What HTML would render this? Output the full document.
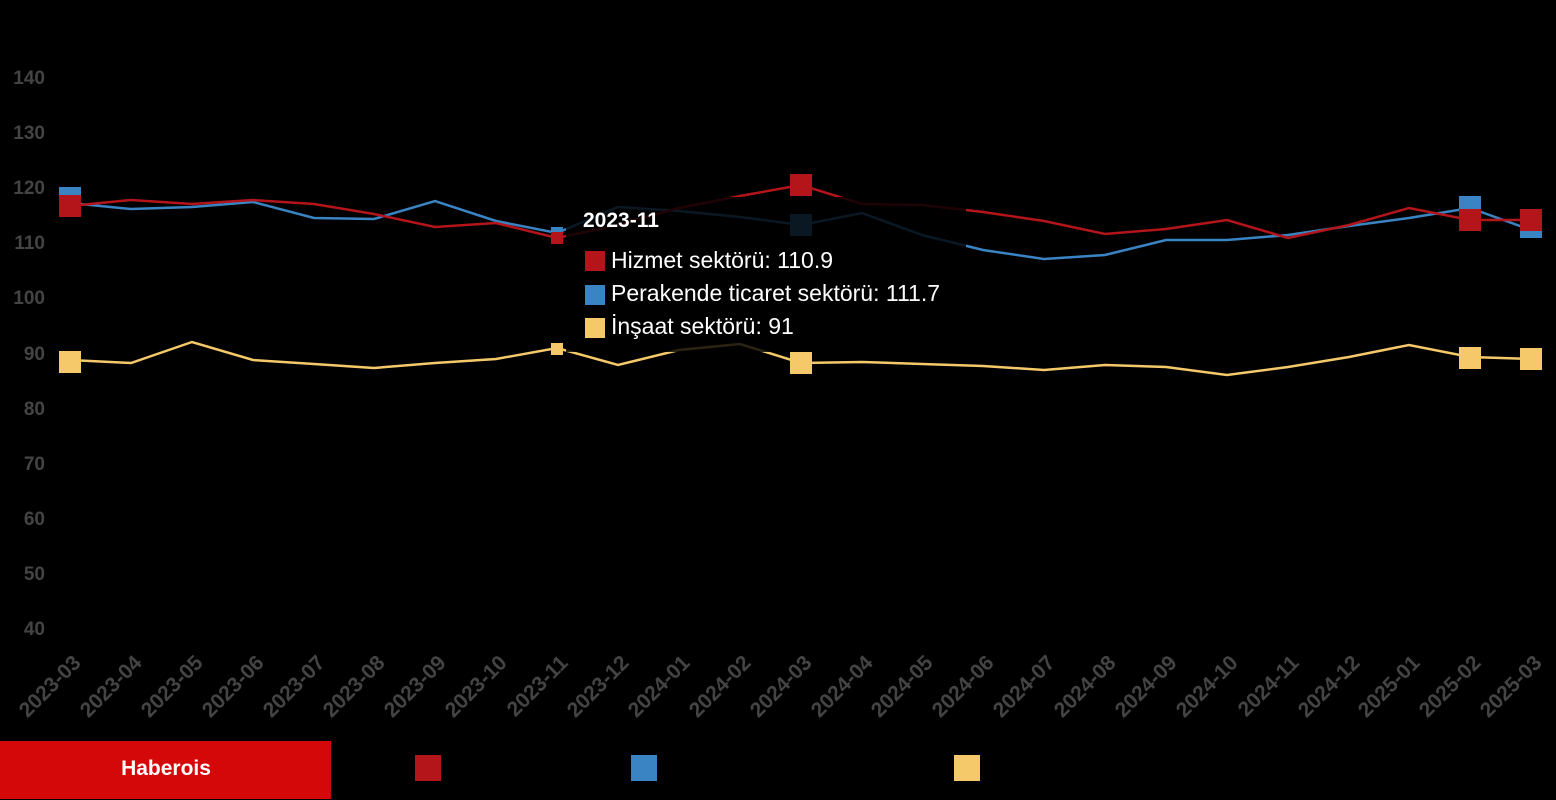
<!DOCTYPE html>
<html><head><meta charset="utf-8"><style>
body{margin:0;background:#000;width:1556px;height:800px;overflow:hidden;font-family:"Liberation Sans",sans-serif}
</style></head><body>
<svg width="1556" height="800" xmlns="http://www.w3.org/2000/svg" style="position:absolute;left:0;top:0">
<g font-family="Liberation Sans" font-weight="bold" font-size="19" fill="#444" text-anchor="end">
<text x="45" y="84">140</text><text x="45" y="139">130</text><text x="45" y="194">120</text><text x="45" y="249">110</text><text x="45" y="304">100</text><text x="45" y="360">90</text><text x="45" y="415">80</text><text x="45" y="470">70</text><text x="45" y="525">60</text><text x="45" y="580">50</text><text x="45" y="635">40</text>
</g>
<g fill="none" stroke-width="2.5">
<polyline stroke="#3a84c4" points="70,203 131,209 192,207 253,202 314,218 374,219 435,201 496,221 557,233 618,207 679,211 740,217 801,225 862,213 922,235 983,250 1044,259 1105,255 1166,240 1227,240 1288,235 1349,226 1409,218 1470,208 1531,230"/>
<polyline stroke="#b3151b" points="70,206 131,200 192,204 253,200 314,204 374,214 435,227 496,223 557,238 618,225 679,208 740,196 801,185 862,204 922,205 983,212 1044,221 1105,234 1166,229 1227,220 1288,238 1349,225 1409,208 1470,220 1531,220"/>
<polyline stroke="#f5c96a" points="70,360 131,363 192,342 253,360 314,364 374,368 435,363 496,359 557,348 618,365 679,350 740,344 801,363 862,362 922,364 983,366 1044,370 1105,365 1166,367 1227,375 1288,367 1349,357 1409,345 1470,357 1531,359"/>
</g>
<g fill="#3a84c4"><rect x="59" y="187" width="22" height="22"/><rect x="551" y="227" width="12" height="12"/><rect x="1459" y="196" width="22" height="22"/><rect x="1520" y="216" width="22" height="22"/></g>
<g fill="#b3151b"><rect x="59" y="195" width="22" height="22"/><rect x="551" y="232" width="12" height="12"/><rect x="790" y="174" width="22" height="22"/><rect x="1459" y="209" width="22" height="22"/><rect x="1520" y="209" width="22" height="22"/></g>
<rect x="790" y="214" width="22" height="22" fill="#3a84c4"/>
<g fill="#f5c96a"><rect x="59" y="351" width="22" height="22"/><rect x="551" y="343" width="12" height="12"/><rect x="790" y="352" width="22" height="22"/><rect x="1459" y="347" width="22" height="22"/><rect x="1520" y="348" width="22" height="22"/></g>
<rect x="566" y="197" width="400" height="155" fill="#000" opacity="0.82"/>
<text x="583" y="227" font-size="21" font-weight="bold" fill="#fff">2023-11</text>
<rect x="585" y="251" width="20" height="20" fill="#b3151b"/>
<rect x="585" y="285" width="20" height="20" fill="#3a84c4"/>
<rect x="585" y="318" width="20" height="20" fill="#f5c96a"/>
<g font-size="23" fill="#fff"><text x="611" y="268">Hizmet sektörü: 110.9</text><text x="611" y="301">Perakende ticaret sektörü: 111.7</text><text x="611" y="334">İnşaat sektörü: 91</text></g>
<g font-family="Liberation Sans" font-weight="bold" font-size="21" fill="#444" text-anchor="end">
<text transform="translate(82,664) rotate(-45)">2023-03</text><text transform="translate(143,664) rotate(-45)">2023-04</text><text transform="translate(204,664) rotate(-45)">2023-05</text><text transform="translate(265,664) rotate(-45)">2023-06</text><text transform="translate(326,664) rotate(-45)">2023-07</text><text transform="translate(386,664) rotate(-45)">2023-08</text><text transform="translate(447,664) rotate(-45)">2023-09</text><text transform="translate(508,664) rotate(-45)">2023-10</text><text transform="translate(569,664) rotate(-45)">2023-11</text><text transform="translate(630,664) rotate(-45)">2023-12</text><text transform="translate(691,664) rotate(-45)">2024-01</text><text transform="translate(752,664) rotate(-45)">2024-02</text><text transform="translate(813,664) rotate(-45)">2024-03</text><text transform="translate(874,664) rotate(-45)">2024-04</text><text transform="translate(934,664) rotate(-45)">2024-05</text><text transform="translate(995,664) rotate(-45)">2024-06</text><text transform="translate(1056,664) rotate(-45)">2024-07</text><text transform="translate(1117,664) rotate(-45)">2024-08</text><text transform="translate(1178,664) rotate(-45)">2024-09</text><text transform="translate(1239,664) rotate(-45)">2024-10</text><text transform="translate(1300,664) rotate(-45)">2024-11</text><text transform="translate(1361,664) rotate(-45)">2024-12</text><text transform="translate(1421,664) rotate(-45)">2025-01</text><text transform="translate(1482,664) rotate(-45)">2025-02</text><text transform="translate(1543,664) rotate(-45)">2025-03</text>
</g>
<rect x="0" y="741" width="331" height="58" fill="#d40808"/>
<text x="166" y="775" font-size="21" font-weight="bold" fill="#fff" text-anchor="middle">Haberois</text>
<rect x="415" y="755" width="26" height="26" fill="#b3151b"/>
<rect x="631" y="755" width="26" height="26" fill="#3a84c4"/>
<rect x="954" y="755" width="26" height="26" fill="#f5c96a"/>
</svg>
</body></html>
